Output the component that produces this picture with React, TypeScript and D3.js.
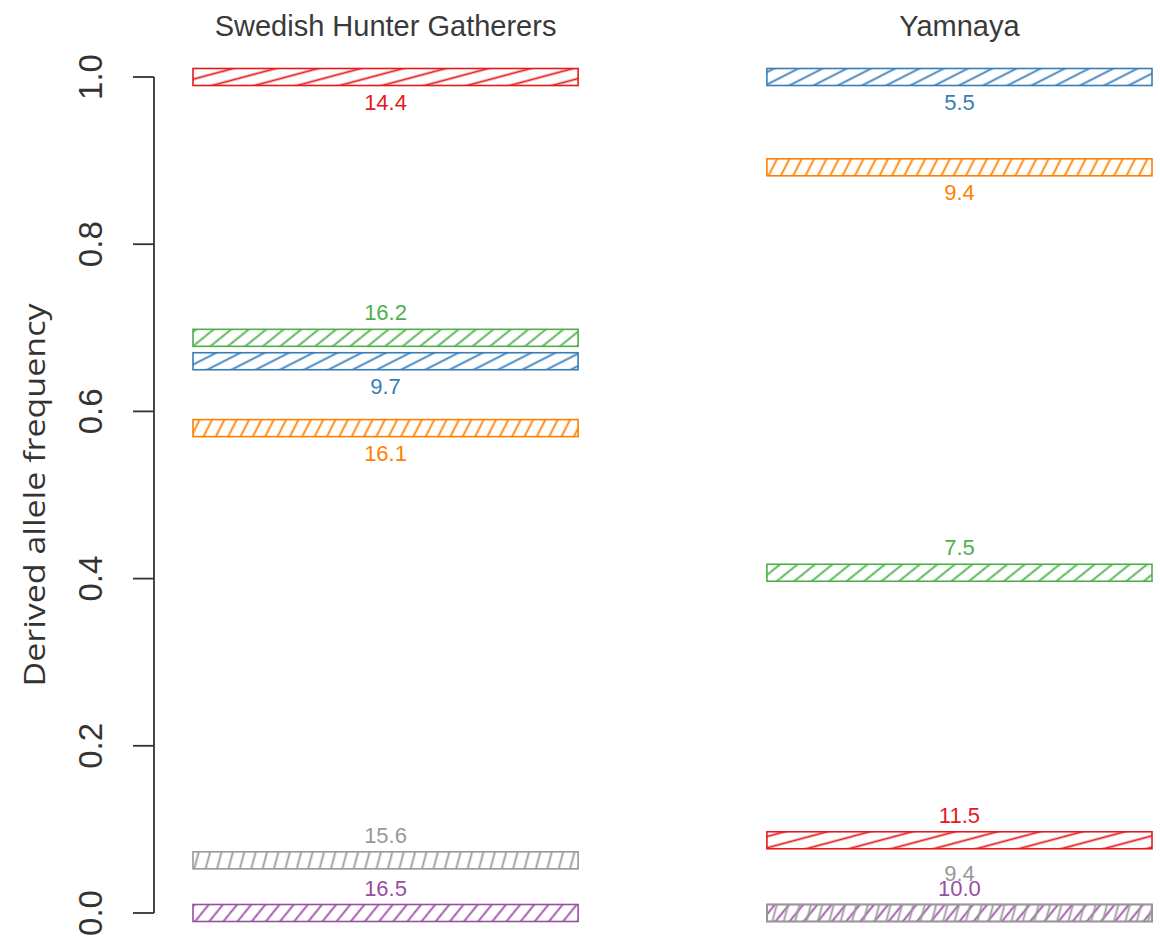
import React from "react";
import * as d3 from "d3";

const groups = ["Swedish Hunter Gatherers", "Yamnaya"];
const seriesColors = ["#E41A1C", "#377EB8", "#4DAF4A", "#984EA3", "#FF7F00", "#999999"];
const hatchAngles = [15, 27, 39, 51, 63, 75];

const shgFreq = [1.0, 0.66, 0.688, 0.0, 0.58, 0.063];
const shgLabels = ["14.4", "9.7", "16.2", "16.5", "16.1", "15.6"];
const shgSide = ["below", "below", "above", "above", "below", "above"];

const yamFreq = [0.087, 1.0, 0.407, 0.0, 0.892, 0.0];
const yamLabels = ["11.5", "5.5", "7.5", "10.0", "9.4", "9.4"];
const yamSide = ["above", "below", "above", "above", "below", "above"];

const yTicks = [0, 0.2, 0.4, 0.6, 0.8, 1.0];

const W = 1160;
const H = 947;

export default function App() {
  const y = d3.scaleLinear().domain([0, 1]).range([913, 77]);
  const x = d3.scaleBand<string>().domain(groups).range([193, 1152]).paddingInner(0.329).paddingOuter(0);
  const barH = 17;
  const fmt = d3.format(".1f");

  const groupData = [
    { name: groups[0], freq: shgFreq, labels: shgLabels, side: shgSide },
    { name: groups[1], freq: yamFreq, labels: yamLabels, side: yamSide },
  ];

  const axisColor = "#333";
  const textColor = "#3a3a3a";

  return (
    <svg width={W} height={H} style={{ position: "absolute", left: 0, top: 0, background: "#fff" }}>
      <defs>
        {seriesColors.map((c, i) => (
          <pattern
            key={i}
            id={`hatch${i}`}
            patternUnits="userSpaceOnUse"
            width={10}
            height={11}
            patternTransform={`rotate(${-hatchAngles[i]})`}
          >
            <line x1={0} y1={5.5} x2={10} y2={5.5} stroke={c} strokeWidth={1.8} />
          </pattern>
        ))}
      </defs>

      {/* y axis */}
      <line x1={154} x2={154} y1={y(0)} y2={y(1)} stroke={axisColor} strokeWidth={1.8} />
      {yTicks.map((t) => (
        <g key={t}>
          <line x1={133} x2={154} y1={y(t)} y2={y(t)} stroke={axisColor} strokeWidth={1.8} />
          <text
            transform={`translate(90,${y(t)}) rotate(-90)`}
            textAnchor="middle"
            dominantBaseline="central"
            fontFamily="Liberation Sans, Arial, sans-serif"
            fontSize={33}
            fill={axisColor}
          >
            {fmt(t)}
          </text>
        </g>
      ))}
      <text
        transform={`translate(33,${(y(0) + y(1)) / 2}) rotate(-90)`}
        textAnchor="middle"
        dominantBaseline="central"
        fontFamily="Open Sans, sans-serif"
        fontSize={30}
        textLength={383}
        lengthAdjust="spacingAndGlyphs"
        fill={axisColor}
      >
        Derived allele frequency
      </text>

      {groupData.map((g) => {
        const x0 = x(g.name) as number;
        const bw = x.bandwidth();
        const cx = x0 + bw / 2;
        // stack labels that share the same value and side
        const labelY = g.freq.map((v, i) => {
          let stack = 0;
          for (let j = 0; j < i; j++) {
            if (g.freq[j] === v && g.side[j] === g.side[i]) stack++;
          }
          const dir = g.side[i] === "above" ? -1 : 1;
          return y(v) + dir * (25 + stack * 15);
        });
        return (
          <g key={g.name}>
            <text
              x={cx}
              y={26}
              textAnchor="middle"
              dominantBaseline="central"
              fontFamily="Liberation Sans, Arial, sans-serif"
              fontSize={29}
              fill={textColor}
            >
              {g.name}
            </text>
            {g.freq.map((v, i) => (
              <rect
                key={`r${i}`}
                x={x0}
                y={y(v) - barH / 2}
                width={bw}
                height={barH}
                fill={`url(#hatch${i})`}
                stroke={seriesColors[i]}
                strokeWidth={1.6}
              />
            ))}
            {g.freq.map((v, i) => (
              <text
                key={`t${i}`}
                x={cx}
                y={labelY[i]}
                textAnchor="middle"
                dominantBaseline="central"
                fontFamily="Liberation Sans, Arial, sans-serif"
                fontSize={22}
                fill={seriesColors[i]}
              >
                {g.labels[i]}
              </text>
            ))}
          </g>
        );
      })}
    </svg>
  );
}
